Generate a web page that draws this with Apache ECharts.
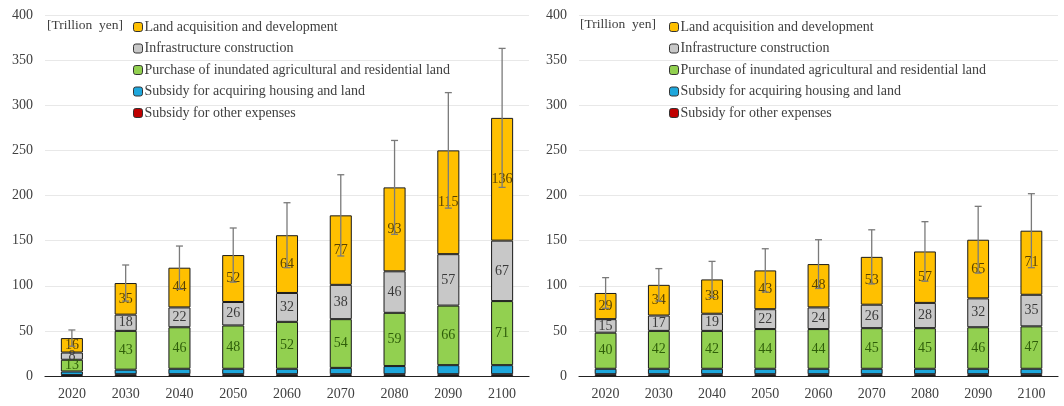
<!DOCTYPE html>
<html><head><meta charset="utf-8">
<script src="https://cdn.jsdelivr.net/npm/echarts@6/dist/echarts.min.js"></script>
<style>html,body{margin:0;padding:0;background:#fff}#c{width:1064px;height:406px}</style>
</head><body><div id="c"></div>
<script>
const years = ['2020','2030','2040','2050','2060','2070','2080','2090','2100'];
const yTicks = [0,50,100,150,200,250,300,350,400];
const seriesNames = ['Subsidy for other expenses','Subsidy for acquiring housing and land','Purchase of inundated agricultural and residential land','Infrastructure construction','Land acquisition and development'];
const legendOrder = ['Land acquisition and development','Infrastructure construction','Purchase of inundated agricultural and residential land','Subsidy for acquiring housing and land','Subsidy for other expenses'];
const unitLabel = '[Trillion  yen]';

// Left panel
const leftOther   = [1,2,2,2,2,2,2,2,2];
const leftSubsidy = [4,5,6,6,6,7,9,10,10];
const leftPurchase= [13,43,46,48,52,54,59,66,71];
const leftInfra   = [8,18,22,26,32,38,46,57,67];
const leftLand    = [16,35,44,52,64,77,93,115,136];
const leftError   = [9,20,24,30,36,45,52,64,77];

// Right panel
const rightOther   = [2,2,2,2,2,2,2,2,2];
const rightSubsidy = [6,6,6,6,6,6,6,6,6];
const rightPurchase= [40,42,42,44,44,45,45,46,47];
const rightInfra   = [15,17,19,22,24,26,28,32,35];
const rightLand    = [29,34,38,43,48,53,57,65,71];
const rightError   = [17,18,20,24,27,30,33,37,41];

const colors = ['#C00000','#1EA7DC','#92D050','#C8C8C8','#FFC000'];
const labelColors = [null,null,'#2F5E0A','#3a3a3a','#5a4300'];
const serif = '"Liberation Serif","DejaVu Serif",serif';

const chart = echarts.init(document.getElementById('c'), null, {renderer:'canvas'});

function panel(idx, segs, errs){
  const out = [];
  segs.forEach((arr,i)=>{
    out.push({
      type:'bar', name:seriesNames[i], stack:'s'+idx, xAxisIndex:idx, yAxisIndex:idx,
      data:arr, barWidth:'41%', z:2,
      itemStyle:{color:colors[i], borderColor:'#1a1a1a', borderWidth:1},
      label: labelColors[i] ? {show:true, position:'inside', color:labelColors[i], fontFamily:serif, fontSize:14} : {show:false},
      emphasis:{disabled:true}
    });
  });
  const totals = years.map((y,k)=>segs.reduce((s,a)=>s+a[k],0));
  out.push({
    type:'custom', xAxisIndex:idx, yAxisIndex:idx, z:3, silent:true,
    data: years.map((y,k)=>[k, totals[k], errs[k]]),
    renderItem:(params, api)=>{
      const x = api.value(0), t = api.value(1), e = api.value(2);
      const top = api.coord([x, t+e]);
      const bot = api.coord([x, t-e]);
      const cw = 3.5;
      const st = {stroke:'#7a7a7a', lineWidth:1.3};
      return {type:'group', children:[
        {type:'line', shape:{x1:top[0],y1:top[1],x2:bot[0],y2:bot[1]}, style:st},
        {type:'line', shape:{x1:top[0]-cw,y1:top[1],x2:top[0]+cw,y2:top[1]}, style:st},
        {type:'line', shape:{x1:bot[0]-cw,y1:bot[1],x2:bot[0]+cw,y2:bot[1]}, style:st}
      ]};
    }
  });
  return out;
}

function xAxis(i){
  return {type:'category', gridIndex:i, data:years,
    axisLine:{lineStyle:{color:'#222', width:1.2}}, axisTick:{show:false},
    axisLabel:{color:'#404040', fontFamily:serif, fontSize:14, margin:11}};
}
function yAxis(i){
  return {type:'value', gridIndex:i, min:0, max:400, interval:50,
    axisLine:{show:false}, axisTick:{show:false},
    axisLabel:{color:'#404040', fontFamily:serif, fontSize:14, margin:12, formatter:v=>yTicks.includes(v)?String(v):''},
    splitLine:{lineStyle:{color:'#e8e8e8', width:1}}};
}
function legend(left){
  return {orient:'vertical', left:left, top:15, data:legendOrder, itemWidth:9, itemHeight:9, itemGap:7.5,
    icon:'roundRect', selectedMode:false,
    itemStyle:{borderColor:'#333', borderWidth:1},
    textStyle:{fontFamily:serif, fontSize:14, color:'#404040', lineHeight:14, padding:[0,0,0,-3]}};
}

chart.setOption({
  animation:false,
  grid:[{left:45, width:484, top:15, bottom:30},{left:579, width:479, top:15, bottom:30}],
  xAxis:[xAxis(0), xAxis(1)],
  yAxis:[yAxis(0), yAxis(1)],
  legend:[legend(128), legend(664)],
  graphic:[
    {type:'text', left:47, top:18, style:{text:unitLabel, font:'13.5px '+serif, fill:'#404040'}},
    {type:'text', left:580, top:17, style:{text:unitLabel, font:'13.5px '+serif, fill:'#404040'}}
  ],
  series:[
    ...panel(0,[leftOther,leftSubsidy,leftPurchase,leftInfra,leftLand],leftError),
    ...panel(1,[rightOther,rightSubsidy,rightPurchase,rightInfra,rightLand],rightError)
  ]
});
</script></body></html>
